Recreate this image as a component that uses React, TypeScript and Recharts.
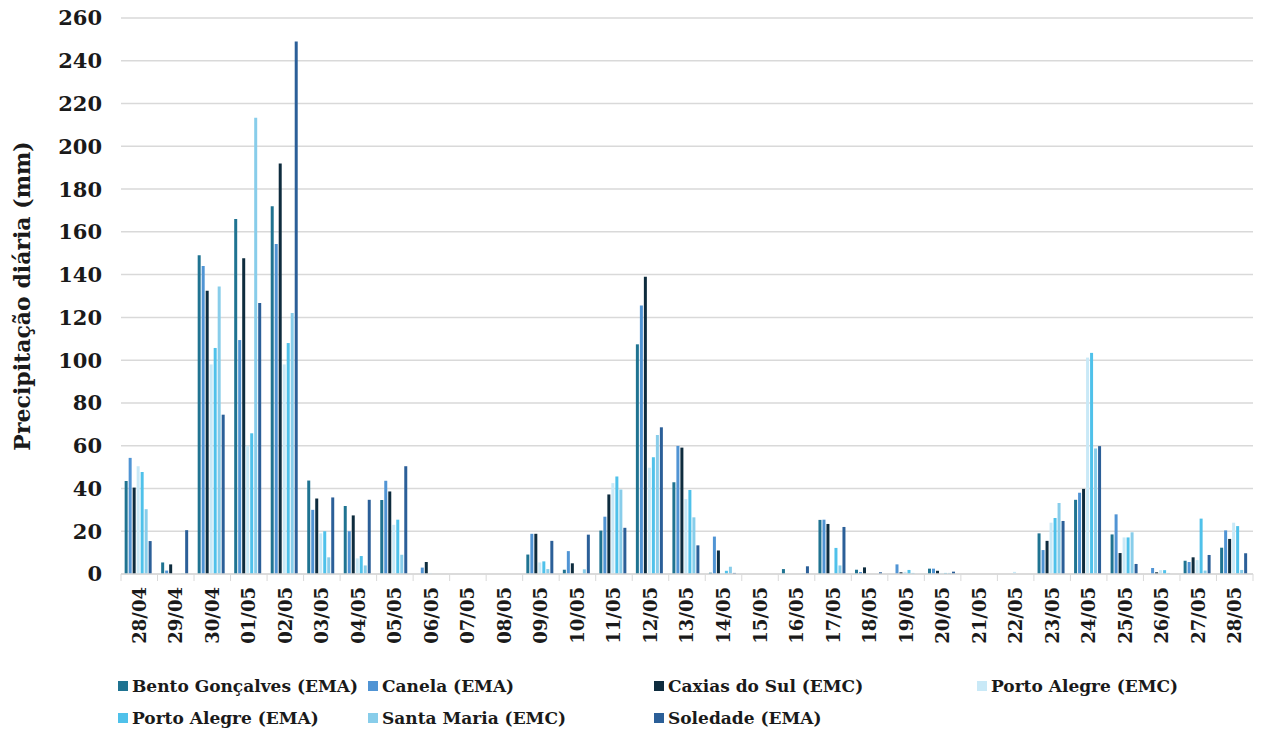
import React from "react";
import { BarChart, Bar, XAxis, YAxis, CartesianGrid, Label } from "recharts";

const categories = [
  "28/04", "29/04", "30/04", "01/05", "02/05", "03/05", "04/05", "05/05", "06/05", "07/05",
  "08/05", "09/05", "10/05", "11/05", "12/05", "13/05", "14/05", "15/05", "16/05", "17/05",
  "18/05", "19/05", "20/05", "21/05", "22/05", "23/05", "24/05", "25/05", "26/05", "27/05", "28/05",
];

const bentoGoncalves = [43.5, 5.4, 149, 166, 172, 43.7, 31.8, 34.6, 0, 0, 0, 9.1, 2, 20.3, 107.4, 42.9, 0.6, 0, 2.3, 25.3, 2, 0, 2.5, 0, 0, 19, 34.7, 18.5, 0, 6.2, 12.3];
const canela = [54.3, 1.6, 144, 109.4, 154.3, 30, 20, 43.6, 3, 0, 0, 18.8, 10.7, 26.8, 125.5, 59.9, 17.5, 0, 0, 25.4, 0.9, 4.5, 2.5, 0, 0, 11.2, 38, 27.9, 2.8, 5.6, 20.4];
const caxiasDoSul = [40.4, 4.5, 132.5, 147.7, 192, 35.3, 27.4, 38.6, 5.6, 0, 0, 18.8, 5, 37.2, 139, 59.1, 11, 0, 0, 23.4, 3.1, 0.8, 1.5, 0, 0, 15.5, 39.8, 9.8, 0.8, 7.8, 16.4];
const portoAlegreEMC = [50.4, 0, 98, 60, 98, 19, 7.3, 23, 0.5, 0, 0, 5.4, 0, 42.5, 49.7, 35, 0.5, 0, 0, 0.5, 0, 1, 0.5, 0, 1, 24, 101.2, 17.1, 1.8, 6.5, 24];
const portoAlegreEMA = [47.7, 0, 105.7, 65.8, 108, 20, 8.4, 25.4, 0, 0, 0, 5.9, 0, 45.6, 54.6, 39.3, 1.5, 0, 0, 12.2, 0, 1.9, 0.5, 0, 0, 26.2, 103.4, 17.1, 1.8, 25.9, 22.4];
const santaMaria = [30.3, 0.3, 134.5, 213.3, 122, 7.8, 4, 9, 0, 0, 0, 2.3, 2.2, 39.5, 65, 26.5, 3.4, 0, 0.3, 4, 0, 0.5, 0.5, 0, 0, 33.2, 58.7, 19.5, 0.5, 1.6, 1.9];
const soledade = [15.4, 20.5, 74.5, 126.7, 249, 35.8, 34.7, 50.4, 0, 0, 0, 15.5, 18.4, 21.6, 68.6, 13.4, 0.5, 0, 3.6, 22, 0.8, 0, 1.1, 0, 0, 24.8, 59.8, 4.7, 0, 8.9, 9.7];

const yTicks = [0, 20, 40, 60, 80, 100, 120, 140, 160, 180, 200, 220, 240, 260];

const series = [
  { key: "bento", name: "Bento Gonçalves (EMA)", values: bentoGoncalves, color: "#1f7391" },
  { key: "canela", name: "Canela (EMA)", values: canela, color: "#5094d4" },
  { key: "caxias", name: "Caxias do Sul (EMC)", values: caxiasDoSul, color: "#0e2c3e" },
  { key: "paEmc", name: "Porto Alegre (EMC)", values: portoAlegreEMC, color: "#c9e9f7" },
  { key: "paEma", name: "Porto Alegre (EMA)", values: portoAlegreEMA, color: "#4fc1ea" },
  { key: "sm", name: "Santa Maria (EMC)", values: santaMaria, color: "#88cdea" },
  { key: "soledade", name: "Soledade (EMA)", values: soledade, color: "#2b5f98" },
];

const data = categories.map((c, i) => {
  const row: Record<string, any> = { cat: c };
  series.forEach((s) => (row[s.key] = s.values[i]));
  return row;
});

const FONT = "'DejaVu Serif', serif";
const GRID = "#d9d9d9";

const XTick = (props: any) => {
  const { x, y, payload, index } = props;
  const half = payload && payload.offset ? payload.offset : 18.26;
  return (
    <g>
      <line x1={x - half} x2={x - half} y1={y} y2={y + 7} stroke={GRID} strokeWidth={1} />
      {index === categories.length - 1 && (
        <line x1={x + half} x2={x + half} y1={y} y2={y + 7} stroke={GRID} strokeWidth={1} />
      )}
      <text
        x={x}
        y={y + 13}
        transform={`rotate(-90, ${x}, ${y + 13})`}
        textAnchor="end"
        dy="0.36em"
        fontFamily={FONT}
        fontWeight="bold"
        fontSize={18}
        fill="#1a1a1a"
      >
        {payload.value}
      </text>
    </g>
  );
};

const legendCols = [110, 360, 646, 969];

export default function App() {
  return (
    <div style={{ position: "relative", width: 1248, height: 738, marginTop: -8, fontFamily: FONT }}>
      <BarChart
        width={1248}
        height={668}
        data={data}
        margin={{ top: 18, right: 3, left: 0, bottom: 0 }}
        barCategoryGap="10%"
        barGap={1}
      >
        <CartesianGrid vertical={false} stroke={GRID} strokeWidth={1.5} />
        <XAxis
          dataKey="cat"
          height={94}
          interval={0}
          tickSize={0}
          tickMargin={0}
          axisLine={{ stroke: GRID, strokeWidth: 1.5 }}
          tickLine={false}
          tick={<XTick />}
        />
        <YAxis
          width={113}
          domain={[0, 260]}
          ticks={yTicks}
          interval={0}
          axisLine={false}
          tickLine={false}
          tickSize={0}
          tickMargin={19}
          tick={{ fontFamily: FONT, fontWeight: "bold", fontSize: 21, fill: "#1a1a1a" }}
        >
          <Label
            content={(p: any) => {
              const vb = p.viewBox || { x: 0, y: 18, width: 113, height: 556 };
              const cx = 14;
              const cy = vb.y + vb.height / 2;
              return (
                <text
                  x={cx}
                  y={cy}
                  transform={`rotate(-90, ${cx}, ${cy})`}
                  textAnchor="middle"
                  dy="0.36em"
                  fontFamily={FONT}
                  fontWeight="bold"
                  fontSize={22}
                  fill="#1a1a1a"
                >
                  Precipitação diária (mm)
                </text>
              );
            }}
          />
        </YAxis>
        {series.map((s) => (
          <Bar key={s.key} dataKey={s.key} name={s.name} fill={s.color} isAnimationActive={false} />
        ))}
      </BarChart>
      {series.map((s, i) => {
        const row = i < 4 ? 0 : 1;
        const col = i < 4 ? i : i - 4;
        return (
          <div
            key={s.key}
            style={{
              position: "absolute",
              left: legendCols[col],
              top: 674 + row * 32,
              display: "flex",
              alignItems: "center",
              whiteSpace: "nowrap",
              fontWeight: "bold",
              fontSize: 17,
              color: "#1a1a1a",
              lineHeight: "24px",
            }}
          >
            <span style={{ display: "inline-block", width: 10, height: 10, background: s.color, marginRight: 4 }} />
            {s.name}
          </div>
        );
      })}
    </div>
  );
}
